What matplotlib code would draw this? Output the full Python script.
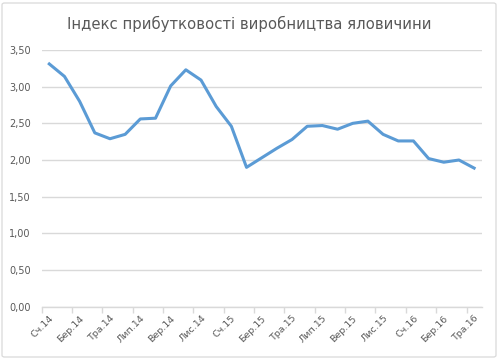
import matplotlib
matplotlib.use("Agg")
import matplotlib.pyplot as plt
from matplotlib.patches import FancyBboxPatch
from matplotlib.ticker import FixedLocator, FuncFormatter

MONTHS = ["Сч", "Лют", "Бер", "Кві", "Тра", "Чер", "Лип", "Сер", "Вер", "Жов", "Лис", "Гру"]
YEARS = ["14", "15", "16"]
categories = [f"{m}.{y}" for y in YEARS for m in MONTHS][:29]

values = [3.31, 3.14, 2.80, 2.37, 2.29, 2.35, 2.56, 2.57, 3.01, 3.23,
          3.09, 2.73, 2.46, 1.90, 2.03, 2.16, 2.28, 2.46, 2.47, 2.42,
          2.50, 2.53, 2.35, 2.26, 2.26, 2.02, 1.97, 2.00, 1.89]

TITLE = "Індекс прибутковості виробництва яловичини"
LINE = "#5b9bd5"
TEXT = "#595959"
GRID = "#d9d9d9"

W, H = 499, 359
fig = plt.figure(figsize=(W / 100, H / 100), dpi=100)
fig.patch.set_facecolor("white")

# chart-area border
fig.patches.append(FancyBboxPatch((2 / W, 2 / H), 1 - 5 / W, 1 - 5 / H,
                                  boxstyle="round,pad=0,rounding_size=0.005",
                                  transform=fig.transFigure, facecolor="none",
                                  edgecolor=GRID, linewidth=0.9))

ax = fig.add_axes([41.7 / W, 1 - 306.7 / H, 440 / W, 256.7 / H])
x = list(range(len(values)))
ax.plot(x, values, color=LINE, linewidth=2.2, solid_joinstyle="round", zorder=3)

ax.set_xlim(-0.5, len(values) - 0.5)
ax.set_ylim(0, 3.5)
ax.set_yticks([i * 0.5 for i in range(8)])
ax.yaxis.set_major_formatter(FuncFormatter(lambda v, _: f"{v:.2f}".replace(".", ",")))
ax.grid(axis="y", color=GRID, linewidth=1.0, zorder=0)
ax.set_axisbelow(True)

for s in ["top", "right", "left"]:
    ax.spines[s].set_visible(False)
ax.spines["bottom"].set_color(GRID)
ax.spines["bottom"].set_linewidth(1.0)

label_pos = list(range(0, len(values), 2))
ax.xaxis.set_major_locator(FixedLocator(label_pos))
ax.set_xticklabels([categories[i] for i in label_pos], rotation=45,
                   ha="right", va="top", rotation_mode="anchor")
ax.xaxis.set_minor_locator(FixedLocator([p - 0.5 for p in label_pos]))
ax.tick_params(axis="x", which="major", length=0, pad=5, labelsize=6.8, colors=TEXT)
ax.tick_params(axis="x", which="minor", length=4, width=1.0, color=GRID, direction="out")
ax.tick_params(axis="y", length=0, pad=8, labelsize=7, colors=TEXT)

fig.text(0.5, 1 - 24 / H, TITLE, ha="center", va="center", fontsize=10.7, color=TEXT)

fig.savefig("out.png", dpi=100, facecolor="white")
